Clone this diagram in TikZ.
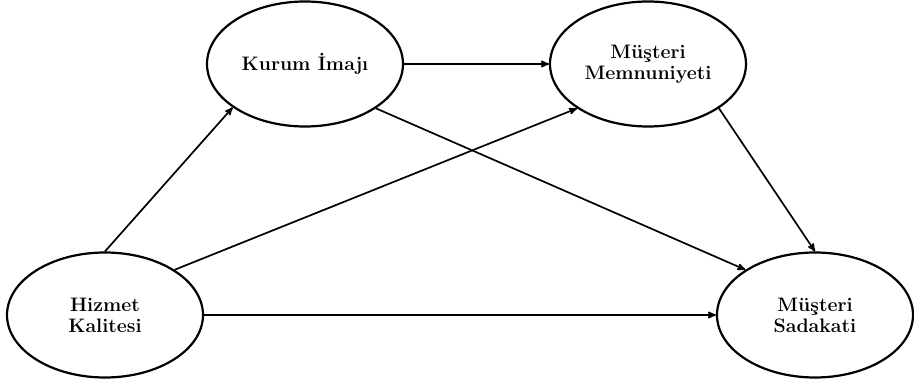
\documentclass[tikz,border=0pt]{standalone}
\usepackage{fontspec}
\usepackage{tikz}
\usetikzlibrary{arrows, positioning, shapes.geometric}

\tikzset{
	construct/.style={ellipse, draw, line width=2.2pt, minimum width=196pt, minimum height=125pt, inner sep=0pt, align=center, font=\fontsize{19.5}{21}\selectfont\bfseries}
}

\begin{document}
\begin{tikzpicture}[->,
				>=stealth',
				x=1pt, y=1pt,
				line width=1.7pt]
				\useasboundingbox (0,0) rectangle (914,382);
				\node at (305,318) (kurum) [construct] {Kurum İmajı};
				\node at (648,318) (memnun) [construct] {Müşteri\\Memnuniyeti};
				\node at (105,67) (hizmet) [construct] {Hizmet\\Kalitesi};
				\node at (815,67) (sadakat) [construct] {Müşteri\\Sadakati};
				\draw[->, black] (hizmet.north) -- (kurum.211);
				\draw[->, black] (hizmet.33) -- (memnun.212);
				\draw[->, black] (hizmet.east) -- (sadakat.west);
				\draw[->, black] (kurum.east) -- (memnun.west);
				\draw[->, black] (kurum.328) -- (sadakat.147);
				\draw[->, black] (memnun.328) -- (sadakat.north);
			\end{tikzpicture}
\end{document}
